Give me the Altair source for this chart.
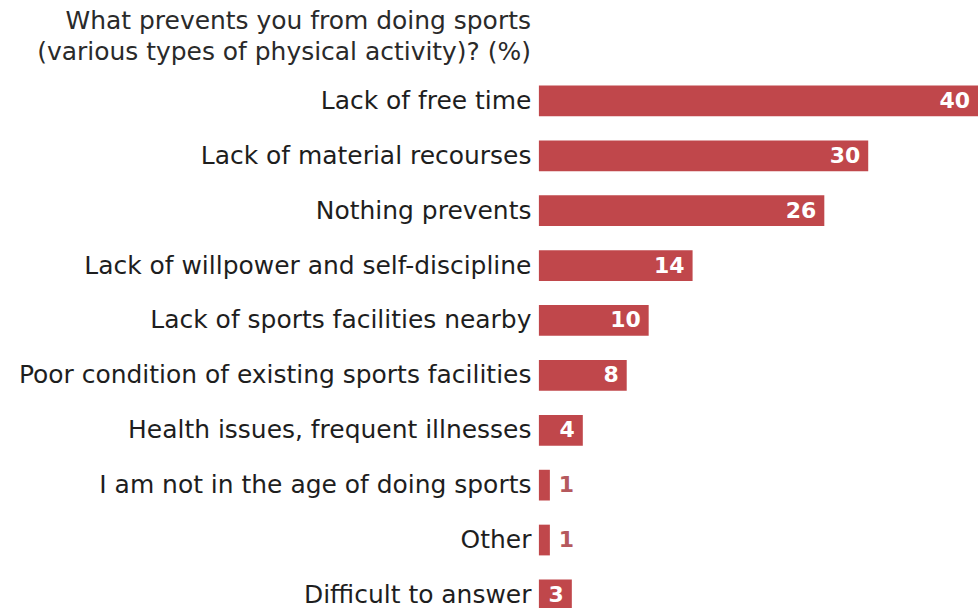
import altair as alt
import pandas as pd

categories = [
    "Lack of free time",
    "Lack of material recourses",
    "Nothing prevents",
    "Lack of willpower and self-discipline",
    "Lack of sports facilities nearby",
    "Poor condition of existing sports facilities",
    "Health issues, frequent illnesses",
    "I am not in the age of doing sports",
    "Other",
    "Difficult to answer",
]
values = [40, 30, 26, 14, 10, 8, 4, 1, 1, 3]

df = pd.DataFrame({"reason": categories, "pct": values})

BAR = "#c0474b"
FONT = "DejaVu Sans"

y_enc = alt.Y(
    "reason:N",
    sort=categories,
    scale=alt.Scale(paddingInner=0.44, paddingOuter=0.22),
    axis=alt.Axis(
        title=None, ticks=False, domain=False, grid=False, labelPadding=8,
        labelFontSize=25, labelColor="#1e1e1e", labelFont=FONT, labelLimit=700,
    ),
)
x_enc = alt.X("pct:Q", scale=alt.Scale(domain=[0, 40]), axis=None)

bars = alt.Chart(df).mark_bar(color=BAR).encode(x=x_enc, y=y_enc)

inside = alt.Chart(df).transform_filter("datum.pct >= 3").mark_text(
    align="right", baseline="middle", dx=-8, color="white",
    fontWeight="bold", fontSize=22, font=FONT,
).encode(x=x_enc, y=y_enc, text="pct:Q")

outside = alt.Chart(df).transform_filter("datum.pct < 3").mark_text(
    align="left", baseline="middle", dx=9, color="#b5595d",
    fontWeight="bold", fontSize=22, font=FONT,
).encode(x=x_enc, y=y_enc, text="pct:Q")

chart = (
    alt.layer(bars, inside, outside)
    .properties(
        width=440,
        height=550,
        autosize=alt.AutoSizeParams(type="none"),
        padding={"left": 540, "top": 73, "right": 0, "bottom": 0},
        title=alt.TitleParams(
            text=["What prevents you from doing sports",
                  "(various types of physical activity)? (%)"],
            anchor="start", frame="group", align="right", dx=-8, dy=23,
            offset=12, baseline="alphabetic", fontSize=25, fontWeight="normal",
            font=FONT, color="#2a2a2a", lineHeight=31,
        ),
    )
    .configure(background="white")
    .configure_view(strokeWidth=0, stroke=None)
)

chart.save("out.html", embed_options={"renderer": "svg", "actions": False})
